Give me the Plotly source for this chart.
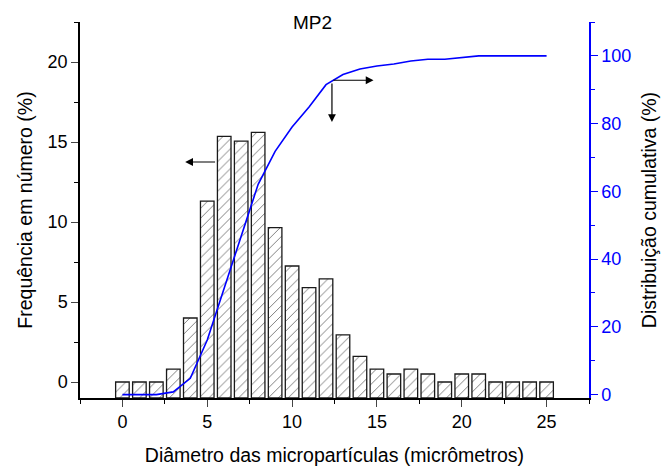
import plotly.graph_objects as go

# Data
diameters = list(range(0, 26))
frequency = [0, 0, 0, 0.8, 4.0, 11.3, 15.35, 15.05, 15.6, 9.65, 7.25, 5.9, 6.45,
             2.95, 1.6, 0.8, 0.5, 0.8, 0.5, 0, 0.5, 0.5, 0, 0, 0, 0]
cumulative = [0, 0, 0, 0.8, 4.8, 16.1, 31.5, 46.5, 62.1, 71.8, 79.0, 84.9, 91.5,
              94.5, 96.1, 97.0, 97.6, 98.5, 99.0, 99.0, 99.5, 100, 100, 100, 100, 100]
x_ticks = [0, 5, 10, 15, 20, 25]
y_left_ticks = [0, 5, 10, 15, 20]
y_right_ticks = [0, 20, 40, 60, 80, 100]

BASE = -1
FONT = "Liberation Sans, Arial, sans-serif"
BLUE = "#0000ff"

fig = go.Figure()
fig.add_trace(go.Bar(
    x=diameters, y=[v - BASE for v in frequency], base=BASE, width=0.8,
    marker=dict(color="white", line=dict(color="#1a1a1a", width=1.3),
                pattern=dict(shape="/", fgcolor="black", bgcolor="white",
                             size=7, solidity=0.14)),
    showlegend=False, yaxis="y"))
fig.add_trace(go.Scatter(
    x=diameters, y=cumulative, mode="lines", line=dict(color=BLUE, width=1.6),
    showlegend=False, yaxis="y2"))

fig.update_layout(
    width=662, height=466, margin=dict(l=80, r=73, t=22, b=68),
    paper_bgcolor="white", plot_bgcolor="white",
    font=dict(family=FONT, size=18, color="black"),
    bargap=0.2,
    xaxis=dict(range=[-2.5, 27.5], tickvals=x_ticks, ticks="outside", ticklen=7,
               tickwidth=1.3, showline=True, linecolor="black", linewidth=1.5,
               showgrid=False, zeroline=False, automargin=False,
               minor=dict(dtick=2.5, tick0=0, ticks="outside", ticklen=4, tickwidth=1.3,
                          tickcolor="black"),
               title=dict(text="Diâmetro das micropartículas (micrômetros)",
                          font=dict(size=19.5), standoff=17)),
    yaxis=dict(range=[-1, 22.5], tickvals=y_left_ticks, ticks="outside", ticklen=7,
               tickwidth=1.3, showline=True, linecolor="black", linewidth=1.5,
               showgrid=False, zeroline=False, automargin=False,
               minor=dict(dtick=2.5, tick0=0, ticks="outside", ticklen=4, tickwidth=1.3,
                          tickcolor="black"),
               title=dict(text="Frequência em número (%)", font=dict(size=19.5), standoff=10)),
    yaxis2=dict(range=[-1, 110], tickvals=y_right_ticks, overlaying="y", side="right",
                ticks="outside", ticklen=7, tickwidth=1.3, tickcolor=BLUE,
                showline=True, linecolor=BLUE, linewidth=1.5, showgrid=False,
                zeroline=False, tickfont=dict(color=BLUE), automargin=False,
                minor=dict(dtick=10, tick0=0, ticks="outside", ticklen=4, tickwidth=1.3,
                           tickcolor=BLUE),
                title=dict(text="Distribuição cumulativa (%)", font=dict(size=19.5, color="black"),
                           standoff=12)),
)

# Title
fig.add_annotation(text="MP2", x=11.2, xref="x", y=1.0, yref="paper", yanchor="middle",
                   showarrow=False, font=dict(size=19))

# Arrows
fig.add_annotation(x=3.7, y=13.75, xref="x", yref="y", ax=5.55, ay=13.75,
                   axref="x", ayref="y", showarrow=True, arrowhead=2, arrowsize=1.3,
                   arrowwidth=1.2, arrowcolor="black", text="")
fig.add_annotation(x=14.8, y=92.8, xref="x", yref="y2", ax=12.35, ay=92.8,
                   axref="x", ayref="y2", showarrow=True, arrowhead=2, arrowsize=1.3,
                   arrowwidth=1.2, arrowcolor="black", text="")
fig.add_annotation(x=12.35, y=80.5, xref="x", yref="y2", ax=12.35, ay=92.3,
                   axref="x", ayref="y2", showarrow=True, arrowhead=2, arrowsize=1.3,
                   arrowwidth=1.2, arrowcolor="black", text="")

fig.write_html("out.html")
